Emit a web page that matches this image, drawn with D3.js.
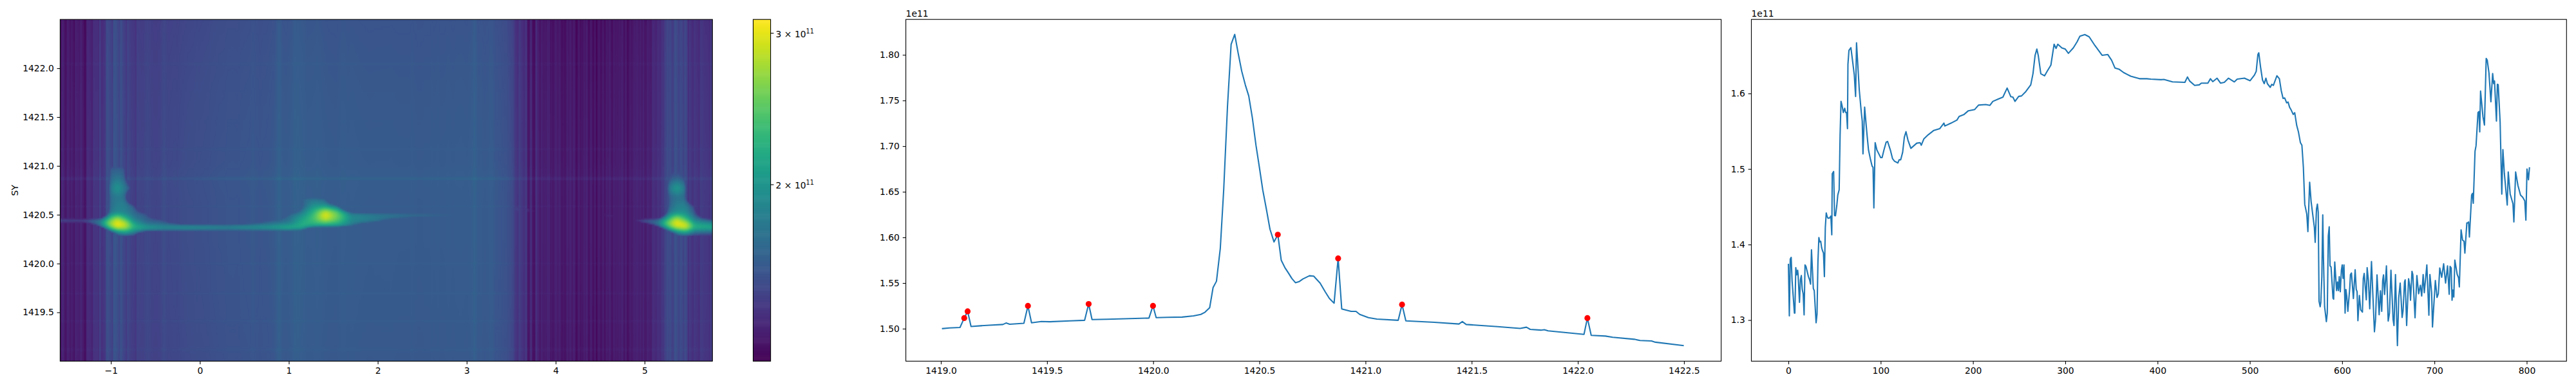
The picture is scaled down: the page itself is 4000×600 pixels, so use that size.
<!DOCTYPE html>
<html>
<head>
<meta charset="utf-8">
<title>SY heatmap and profiles</title>
<script src="https://cdn.jsdelivr.net/npm/d3@7"></script>
<style>
  body { margin: 0; background: #fff; }
  text { font-family: "DejaVu Sans", sans-serif; font-size: 13.9px; fill: #000; }
</style>
</head>
<body>
<div id="chart"></div>
<script>
// all intensities are in units of 1e11

// middle panel: mean per SY row
const rowY = [1419.005,1419.04,1419.09,1419.11,1419.126,1419.142,1419.188,1419.229,1419.292,1419.307,1419.324,1419.391,1419.41,1419.427,1419.473,1419.513,1419.608,1419.677,1419.696,1419.712,1419.784,1419.98,1419.999,1420.014,1420.068,1420.136,1420.19,1420.224,1420.244,1420.266,1420.282,1420.298,1420.316,1420.332,1420.35,1420.367,1420.384,1420.40,1420.417,1420.434,1420.45,1420.467,1420.484,1420.50,1420.516,1420.533,1420.55,1420.569,1420.587,1420.603,1420.62,1420.637,1420.653,1420.67,1420.687,1420.705,1420.736,1420.756,1420.786,1420.81,1420.83,1420.852,1420.871,1420.888,1420.932,1420.955,1420.973,1421.014,1421.054,1421.154,1421.172,1421.19,1421.325,1421.44,1421.456,1421.474,1421.623,1421.728,1421.758,1421.776,1421.826,1421.842,1421.86,1422.029,1422.045,1422.063,1422.13,1422.164,1422.266,1422.293,1422.347,1422.365,1422.499];
const rowMean = [1.500,1.5008,1.5013,1.5116,1.519,1.5024,1.5032,1.5038,1.5046,1.5062,1.5049,1.5059,1.525,1.5065,1.5078,1.5076,1.5086,1.5092,1.527,1.510,1.5103,1.5116,1.525,1.5121,1.5124,1.5127,1.514,1.5156,1.518,1.523,1.545,1.552,1.588,1.652,1.744,1.8116,1.8224,1.802,1.782,1.767,1.755,1.731,1.701,1.677,1.652,1.631,1.609,1.595,1.603,1.575,1.567,1.561,1.555,1.5504,1.5515,1.5545,1.558,1.5575,1.55,1.5405,1.533,1.528,1.577,1.5216,1.519,1.519,1.5156,1.5121,1.5105,1.5092,1.5264,1.5086,1.507,1.5051,1.5078,1.5046,1.5022,1.5003,1.5016,1.4992,1.4984,1.4989,1.4976,1.4938,1.5116,1.4927,1.4919,1.4906,1.4884,1.4871,1.4865,1.4852,1.4814];

// red markers on the peaks
const peakY = [1419.11,1419.126,1419.41,1419.696,1419.999,1420.587,1420.871,1421.172,1422.045];
const peakMean = [1.5116,1.519,1.525,1.527,1.525,1.603,1.577,1.5264,1.5116];

// right panel: mean per column
const colIndex = [0,1,2,3,4,5,6.5,7,8,9,10,10.5,12,13,14,15,16,17,18,19,20,21.7,23,24,25,26,27,28,29,30,31,32,33,34,35,36,37,38,39,40,41,42,43,44.7,46,47,47.5,49,50,51,52.4,53.5,55,56,57,58,59.5,61,62,63,64,64.5,65.6,67.7,69.4,71.4,72.8,73.8,76.8,79,80,80.8,82.6,85,86.8,89,90.7,91.7,92.6,94,95.9,97.7,100,101.5,103.5,105.9,107.5,110.5,112.8,115,118.6,120,121.7,123.8,125.6,127.4,129.6,132.7,139,142.7,144,146.7,151.4,157.6,163.9,168.5,169.5,176.3,182.6,185,190.3,195,201.9,206,213.7,218.4,221.5,227.7,232.4,237,241,243.3,245.5,249.5,252.6,257.3,262.6,265,267.3,269.2,270.7,273.5,277.6,280.7,284.4,287.9,290,291.9,296.3,300,303.4,308.7,312.8,315.9,321.2,325.9,332.1,339.9,346.1,350.2,353.9,358.6,363.2,371,380.4,388.2,392.8,403.7,406.9,416.2,429.6,432.4,434.9,440.2,445.2,447.4,454.5,457.3,459.8,464.5,468.2,472.3,476.9,483.2,486.3,494.1,500.3,505,506.9,508.7,509.7,511.5,513.7,515.6,517.4,519,522.1,523.7,525.5,529.3,532,534,536,537.7,539.9,541.4,543,544.5,547,548.6,550.8,552.6,554.8,556.4,558,559.5,561.7,562.9,564.8,566.4,568.7,569.9,570.8,572.2,573.2,574.1,575,576.2,576.9,578,579,579.7,581,582.9,583.9,585,586,586.9,588,590.1,590.8,592,594,595,596,596.9,598,599.2,600.1,601,602,603.2,604.1,605,606.2,608.3,609,610.1,612.2,614.1,615.3,616.2,617.1,618.7,620.1,622,622.9,623.9,626.2,627.1,628.5,629.9,631.8,633.4,635,636.2,637.8,640.1,641.5,642.9,643.9,644.8,646,648,649.9,651.3,652.9,655.2,656.2,657.8,659.9,661.3,662.9,665,666,667.6,668.3,669.9,672,673.2,674.1,675.7,676.6,679,681,682.9,684.8,686.2,687.8,689,691.8,694,695.1,697,697.9,701,702.8,704.2,705.8,707.9,710,712.1,714.2,716,717,718.2,719.1,720,721,722.1,724.7,726.1,727,728.9,730.5,732.1,733,735.1,736,737,737.9,740.3,741.2,742.1,744,745.1,747.2,748.2,749.1,750,752.6,754.2,756.1,757.2,759.1,761.2,763.1,764.2,765.1,767.2,768.2,769.1,771.2,773,774.2,775.8,778.9,780,782.1,785.1,786.1,788,790.5,793.3,795.6,797.9,799.1,800.3,801.9,803];
const colMean = [1.3745,1.3056,1.3808,1.383,1.3518,1.3348,1.3092,1.3092,1.3694,1.3598,1.366,1.3603,1.3234,1.3532,1.3589,1.3404,1.3348,1.3069,1.3731,1.3711,1.366,1.3575,1.3532,1.3476,1.393,1.3674,1.3419,1.339,1.3177,1.2964,1.3078,1.3774,1.4092,1.4035,1.4043,1.3958,1.3916,1.3887,1.3575,1.4228,1.4418,1.437,1.4347,1.4353,1.4376,1.4129,1.4938,1.4966,1.4384,1.4381,1.4512,1.4654,1.4725,1.5449,1.5895,1.5847,1.5748,1.5804,1.5748,1.5748,1.5534,1.6386,1.657,1.6607,1.6443,1.6244,1.596,1.667,1.6045,1.5748,1.5634,1.5199,1.5818,1.5477,1.525,1.5122,1.5037,1.5023,1.4484,1.5349,1.525,1.5207,1.515,1.515,1.525,1.5355,1.5364,1.525,1.5137,1.5103,1.508,1.5122,1.5122,1.5222,1.542,1.5494,1.538,1.5273,1.5341,1.5348,1.5315,1.5397,1.5452,1.5511,1.5533,1.5608,1.5569,1.5608,1.5648,1.5696,1.5722,1.5771,1.5788,1.5846,1.5853,1.5843,1.5895,1.5928,1.5951,1.6071,1.5957,1.5951,1.5895,1.5961,1.5967,1.6026,1.6114,1.6261,1.6505,1.6587,1.6505,1.6261,1.6234,1.63,1.6375,1.6652,1.6596,1.6652,1.6603,1.6587,1.6531,1.6603,1.6684,1.6759,1.6779,1.675,1.6635,1.6505,1.6515,1.644,1.6336,1.6319,1.6277,1.6228,1.6195,1.6195,1.6189,1.6182,1.6186,1.6153,1.6147,1.6218,1.6163,1.6107,1.6114,1.6137,1.6137,1.6195,1.6156,1.6202,1.6137,1.6147,1.6202,1.6153,1.6189,1.6202,1.6169,1.6244,1.6293,1.6515,1.6538,1.6358,1.6179,1.613,1.6202,1.613,1.6081,1.612,1.6107,1.6234,1.6195,1.6039,1.5934,1.5941,1.5876,1.5886,1.582,1.5788,1.5722,1.5745,1.5576,1.5494,1.5348,1.5315,1.5022,1.4532,1.4402,1.4171,1.4824,1.4569,1.4342,1.4228,1.4029,1.4469,1.4535,1.4427,1.3248,1.3177,1.3234,1.3575,1.4393,1.3859,1.3177,1.2979,1.3092,1.4114,1.4234,1.3717,1.3703,1.3291,1.3277,1.3768,1.339,1.3504,1.339,1.3575,1.3376,1.366,1.3731,1.3552,1.3731,1.3092,1.3405,1.3319,1.3115,1.3433,1.3603,1.3623,1.3285,1.3666,1.3405,1.3376,1.2993,1.3325,1.3135,1.3106,1.3547,1.3618,1.3268,1.3694,1.3518,1.3149,1.3774,1.3305,1.2845,1.3007,1.3598,1.307,1.3388,1.3115,1.3518,1.3598,1.3339,1.3717,1.2987,1.3092,1.366,1.3007,1.2928,1.3603,1.2661,1.3291,1.349,1.3035,1.3121,1.3504,1.3532,1.2928,1.3547,1.3461,1.3263,1.3646,1.3603,1.303,1.3589,1.3348,1.3461,1.3319,1.3603,1.3362,1.3731,1.3064,1.3603,1.3362,1.2908,1.3524,1.33,1.3348,1.3689,1.3566,1.3745,1.349,1.3717,1.3342,1.3711,1.3689,1.3263,1.3399,1.3305,1.3794,1.3603,1.3561,1.3439,1.4194,1.4058,1.4043,1.3887,1.4285,1.4285,1.4299,1.41,1.4654,1.4677,1.4546,1.5236,1.5307,1.5747,1.5761,1.5491,1.6031,1.569,1.5582,1.6463,1.6443,1.6272,1.5889,1.6264,1.6131,1.6165,1.5634,1.6122,1.6116,1.5619,1.4668,1.5256,1.4938,1.4523,1.496,1.4668,1.454,1.4299,1.496,1.4782,1.4654,1.4626,1.4577,1.4322,1.5,1.4858,1.5023];

// heatmap: bright ridge read on a coarse grid, 0 means nothing above the background
const ridgeX = [-1.57,-1.3,-1.12,-1.02,-0.93,-0.84,-0.74,-0.6,-0.4,-0.15,0.3,0.75,1.0,1.15,1.28,1.41,1.55,1.7,2.0,2.4,3.0,3.6,4.2,4.6,4.95,5.15,5.26,5.36,5.46,5.56,5.76];
const ridgeY = [1420.20,1420.27,1420.33,1420.37,1420.41,1420.46,1420.52,1420.60,1420.68,1420.77,1420.90,1421.00,1421.08];
const ridge = [
  [0,0,0,0,0,0,0,0,0,0,0,0,0,0,0,0,0,0,0,0,0,0,0,0,0,0,0,0,0,0,0],
  [0,0,0,0,1.45,1.5,1.45,0,0,0,0,0,0,0,0,0,0,0,0,0,0,0,0,0,0,0,0,1.45,1.5,1.4,1.4],
  [0,0,0,1.7,2.0,2.2,1.9,1.7,1.65,1.65,1.65,1.65,1.65,1.62,0,0,0,0,0,0,0,0,0,0,0,0,1.65,2.0,2.2,1.8,1.7],
  [0,0,1.7,2.3,3.0,2.8,2.3,2.2,2.05,2.1,2.0,2.15,2.35,2.2,2.05,1.95,1.95,1.75,0,0,0,0,0,0,0,1.6,2.2,2.85,3.0,2.3,2.3],
  [1.5,1.5,1.85,2.7,3.11,2.9,2.1,1.7,1.62,1.6,1.6,1.65,1.8,2.2,2.25,2.3,2.2,1.85,1.68,0,0,0,0,0,1.5,1.8,2.6,3.11,2.9,2.1,1.9],
  [1.62,1.58,1.75,2.3,2.8,2.3,1.8,1.65,1.6,0,0,1.6,1.75,2.1,2.4,2.95,2.5,1.95,1.82,1.75,1.62,0,0,1.46,1.56,1.68,2.2,2.8,2.3,1.8,1.5],
  [0,0,0,1.75,1.9,1.85,1.7,1.6,0,0,0,0,1.65,1.85,2.3,3.0,2.5,1.85,1.78,1.72,1.62,1.5,1.43,1.42,0,0,1.75,1.95,1.95,1.6,0],
  [0,0,0,1.7,1.85,1.85,1.65,0,0,0,0,0,0,1.62,1.95,1.9,1.65,0,0,0,1.62,1.46,0,0,0,0,1.6,1.85,1.85,1.5,0],
  [0,0,0,1.7,1.8,1.75,0,0,0,0,0,0,1.65,1.72,1.72,1.65,0,0,0,0,0,0,0,0,0,0,1.6,1.75,1.7,0,0],
  [0,0,0,1.75,2.05,1.8,1.6,0,0,0,0,0,0,0,0,0,0,0,0,0,0,0,0,0,0,0,1.75,2.1,1.8,0,0],
  [0,0,0,1.65,1.75,1.65,0,0,0,0,0,0,0,0,0,0,0,0,0,0,0,0,0,0,0,0,1.5,1.6,1.5,0,0],
  [0,0,0,1.6,1.6,1.6,0,0,0,0,0,0,0,0,0,0,0,0,0,0,0,0,0,0,0,0,1.45,1.45,1.45,0,0],
  [0,0,0,0,0,0,0,0,0,0,0,0,0,0,0,0,0,0,0,0,0,0,0,0,0,0,0,0,0,0,0]
];
// row background under the ridge, the mean above is swamped there
const calmY = [1420.22,1420.57,1420.587,1420.603,1420.85];
const calmMean = [1.515,1.515,1.53,1.515,1.52];

// ticks
const heatXTicks = [-1,0,1,2,3,4,5];
const heatYTicks = [1419.5,1420,1420.5,1421,1421.5,1422];
const cbarTicks = [2,3];
const rowXTicks = [1419,1419.5,1420,1420.5,1421,1421.5,1422,1422.5];
const rowYTicks = [1.5,1.55,1.6,1.65,1.7,1.75,1.8];
const colXTicks = [0,100,200,300,400,500,600,700,800];
const colYTicks = [1.3,1.4,1.5,1.6];

const width = 4000;
const height = 600;
const plotTop = 30.2;
const plotBottom = 561.4;
const tickLen = 4.86;

const svg = d3.select("#chart").append("svg")
  .attr("width", width)
  .attr("height", height)
  .style("display", "block");

// scales
const xHeat = d3.scaleLinear().domain([-1.571, 5.763]).range([93.4, 1106.3]);
const yHeat = d3.scaleLinear().domain([1419, 1422.5]).range([plotBottom, plotTop]);
const color = d3.scaleSequentialLog(d3.interpolateViridis).domain([1.246, 3.11]).clamp(true);
const yCbar = d3.scaleLog().domain([1.246, 3.11]).range([plotBottom, plotTop]);
const xRow = d3.scaleLinear().domain([1418.835, 1422.675]).range([1406.6, 2672.6]);
const yRow = d3.scaleLinear().domain([1.4644, 1.8388]).range([plotBottom, plotTop]);
const xCol = d3.scaleLinear().domain([-40.15, 843.15]).range([2719.5, 3985.3]);
const yCol = d3.scaleLinear().domain([1.2456, 1.698]).range([plotBottom, plotTop]);

// straight lookup between the read points
const lookup = (xs, ys, x) => {
  const i = Math.min(Math.max(d3.bisectLeft(xs, x), 1), xs.length - 1);
  const t = Math.max(0, Math.min(1, (x - xs[i - 1]) / (xs[i] - xs[i - 1])));
  return ys[i - 1] + (ys[i] - ys[i - 1]) * t;
};

const ridgeAt = (x, y) => {
  if (y <= ridgeY[0] || y >= ridgeY[ridgeY.length - 1]) return 0;
  const j = d3.bisectLeft(ridgeY, y);
  const t = (y - ridgeY[j - 1]) / (ridgeY[j] - ridgeY[j - 1]);
  const low = lookup(ridgeX, ridge[j - 1], x);
  const high = lookup(ridgeX, ridge[j], x);
  return low + (high - low) * t;
};

// rows without the ridge, used as the flat background
const calmRows = d3.range(rowY.length)
  .filter(i => rowY[i] < calmY[0] || rowY[i] > calmY[calmY.length - 1])
  .map(i => [rowY[i], rowMean[i]])
  .concat(calmY.map((y, i) => [y, calmMean[i]]))
  .sort((a, b) => a[0] - b[0]);
const calmRowY = calmRows.map(d => d[0]);
const calmRowMean = calmRows.map(d => d[1]);

// build the image, one canvas pixel per cell
const nCols = 803;
const nRows = 215;
const canvas = document.createElement("canvas");
canvas.width = nCols;
canvas.height = nRows;
const ctx = canvas.getContext("2d");
const cells = ctx.createImageData(nCols, nRows);

const hot = new Float64Array(nCols * nRows);
const cellX = c => xHeat.invert(93.4 + (c + 0.5) * (1106.3 - 93.4) / nCols);
const cellY = r => yHeat.invert(plotTop + (r + 0.5) * (plotBottom - plotTop) / nRows);
for (let r = 0; r < nRows; r++) {
  for (let c = 0; c < nCols; c++) {
    hot[r * nCols + c] = ridgeAt(cellX(c), cellY(r));
  }
}
if (d3.blur2) d3.blur2({data: hot, width: nCols, height: nRows}, 2, 0.7);

// the column means contain the ridge, take its share out again for the background
const colBackground = d3.range(nCols).map(c => {
  const mean = lookup(colIndex, colMean, c);
  let extra = 0;
  for (let r = 0; r < nRows; r++) extra += Math.max(0, hot[r * nCols + c] - mean);
  return mean - extra / nRows;
});

for (let r = 0; r < nRows; r++) {
  const rowFactor = lookup(calmRowY, calmRowMean, cellY(r)) / 1.515;
  for (let c = 0; c < nCols; c++) {
    const rgb = d3.rgb(color(Math.max(colBackground[c] * rowFactor, hot[r * nCols + c])));
    const p = (r * nCols + c) * 4;
    cells.data[p] = rgb.r;
    cells.data[p + 1] = rgb.g;
    cells.data[p + 2] = rgb.b;
    cells.data[p + 3] = 255;
  }
}
ctx.putImageData(cells, 0, 0);

svg.append("image")
  .attr("x", xHeat.range()[0])
  .attr("y", plotTop)
  .attr("width", xHeat.range()[1] - xHeat.range()[0])
  .attr("height", plotBottom - plotTop)
  .attr("preserveAspectRatio", "none")
  .attr("href", canvas.toDataURL());

// colorbar
const cbarLeft = 1169.5;
const cbarRight = 1196.6;
const cbarSteps = d3.range(256).map(i => i / 256);
svg.append("g").selectAll("rect")
  .data(cbarSteps)
  .enter()
  .append("rect")
    .attr("x", cbarLeft)
    .attr("width", cbarRight - cbarLeft)
    .attr("y", d => plotBottom - (d + 1 / 256) * (plotBottom - plotTop))
    .attr("height", (plotBottom - plotTop) / 256 + 0.5)
    .attr("fill", d => d3.interpolateViridis(d));

const cbarAxis = svg.append("g")
  .attr("transform", `translate(${cbarRight},0)`)
  .call(d3.axisRight(yCbar).tickValues(cbarTicks).tickSize(tickLen).tickFormat(""));
cbarAxis.select(".domain").remove();
cbarAxis.selectAll("line").attr("stroke", "#000").attr("stroke-width", 1.1);

const cbarLabels = svg.append("g").selectAll("text")
  .data(cbarTicks)
  .enter()
  .append("text")
    .attr("x", 1204.6)
    .attr("y", d => yCbar(d) + 6.5);
cbarLabels.append("tspan").text(d => d + " \u00d7 10");
cbarLabels.append("tspan")
  .attr("dy", -6)
  .style("font-size", "9.7px")
  .text("11");

// axes drawn the same way on every panel
const drawAxes = function(xScale, yScale, xTicks, yTicks, xFormat, yFormat) {
  const left = xScale.range()[0];
  const right = xScale.range()[1];

  const xAxis = svg.append("g")
    .attr("transform", `translate(0,${plotBottom})`)
    .call(d3.axisBottom(xScale).tickValues(xTicks).tickSize(tickLen).tickPadding(4.8).tickFormat(d3.format(xFormat)));
  const yAxis = svg.append("g")
    .attr("transform", `translate(${left},0)`)
    .call(d3.axisLeft(yScale).tickValues(yTicks).tickSize(tickLen).tickPadding(4.8).tickFormat(d3.format(yFormat)));

  [xAxis, yAxis].forEach(a => {
    a.select(".domain").remove();
    a.attr("font-family", null).attr("font-size", null);
    a.selectAll("line").attr("stroke", "#000").attr("stroke-width", 1.1);
  });

  svg.append("rect")
    .attr("x", left)
    .attr("y", plotTop)
    .attr("width", right - left)
    .attr("height", plotBottom - plotTop)
    .attr("fill", "none")
    .attr("stroke", "#000")
    .attr("stroke-width", 1.1);
};

const drawLine = function(xScale, yScale, xs, ys) {
  const line = d3.line()
    .x(i => xScale(xs[i]))
    .y(i => yScale(ys[i]));
  svg.append("path")
    .datum(d3.range(xs.length))
    .attr("d", line)
    .attr("fill", "none")
    .attr("stroke", "#1f77b4")
    .attr("stroke-width", 2.08)
    .attr("stroke-linejoin", "round");
};

// left panel
drawAxes(xHeat, yHeat, heatXTicks, heatYTicks, "d", ".1f");
svg.append("rect")
  .attr("x", cbarLeft)
  .attr("y", plotTop)
  .attr("width", cbarRight - cbarLeft)
  .attr("height", plotBottom - plotTop)
  .attr("fill", "none")
  .attr("stroke", "#000")
  .attr("stroke-width", 1.1);
svg.append("text")
  .attr("transform", `translate(27.5,${(plotTop + plotBottom) / 2}) rotate(-90)`)
  .attr("text-anchor", "middle")
  .text("SY");

// middle panel
drawLine(xRow, yRow, rowY, rowMean);
svg.append("g").selectAll("circle")
  .data(peakY)
  .enter()
  .append("circle")
    .attr("cx", d => xRow(d))
    .attr("cy", (d, i) => yRow(peakMean[i]))
    .attr("r", 4.6)
    .attr("fill", "red");
drawAxes(xRow, yRow, rowXTicks, rowYTicks, ".1f", ".2f");
svg.append("text").attr("x", xRow.range()[0]).attr("y", 26).text("1e11");

// right panel
drawLine(xCol, yCol, colIndex, colMean);
drawAxes(xCol, yCol, colXTicks, colYTicks, "d", ".1f");
svg.append("text").attr("x", xCol.range()[0]).attr("y", 26).text("1e11");
</script>
</body>
</html>
